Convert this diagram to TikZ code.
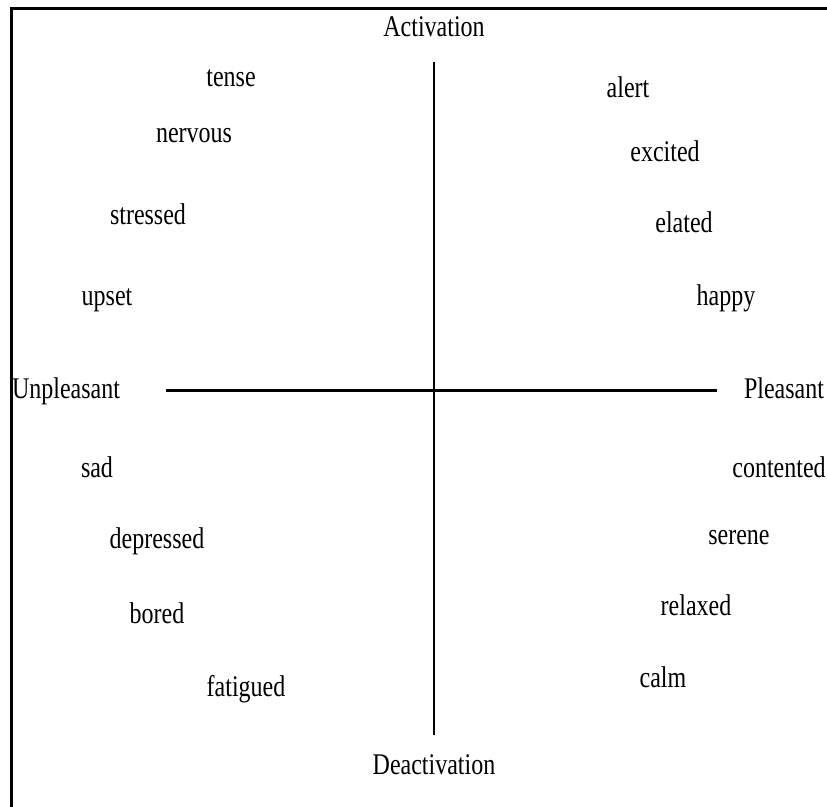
\documentclass[tikz,border=0pt]{standalone}
\usepackage{fontspec}
\newfontfamily\emofont[FakeStretch=0.8]{Liberation Serif}
\usepackage{tikz}
\usetikzlibrary{positioning}

\begin{document}
\begin{tikzpicture}[
  x=0.5pt, y=-0.5pt,
  word/.style={anchor=base, inner sep=0pt, font=\emofont\fontsize{15}{18}\selectfont},
  axis/.style={line width=1.5pt, color=black}
]
  \useasboundingbox (0,0) rectangle (827,807);
  % frame (left and top only)
  \draw[line width=1.5pt] (11,807) -- (11,9) -- (827,9);

  % axes
  \coordinate (top) at (434,62);
  \coordinate (bottom) at (434,735);
  \coordinate (left) at (166,391);
  \coordinate (right) at (717,391);
  \draw[axis, line width=1pt] (top) -- (bottom);
  \draw[axis] (left) -- (right);

  \node[word] (act) at (434,37) {Activation};
  \node[word] (deact) at (434,775) {Deactivation};
  \node[word] (unpl) at (66,399) {Unpleasant};
  \node[word] (pl) at (784,399) {Pleasant};

  % upper left
  \node[word] (tense) at (231,87) {tense};
  \node[word] (nervous) at (194,143) {nervous};
  \node[word] (stressed) at (148,225) {stressed};
  \node[word] (upset) at (107,306) {upset};
  % upper right
  \node[word] (alert) at (628,98) {alert};
  \node[word] (excited) at (665,162) {excited};
  \node[word] (elated) at (684,233) {elated};
  \node[word] (happy) at (726,306) {happy};
  % lower left
  \node[word] (sad) at (97,478) {sad};
  \node[word] (depressed) at (157,549) {depressed};
  \node[word] (bored) at (157,624) {bored};
  \node[word] (fatigued) at (246,697) {fatigued};
  % lower right
  \node[word] (contented) at (779,478) {contented};
  \node[word] (serene) at (739,545) {serene};
  \node[word] (relaxed) at (696,616) {relaxed};
  \node[word] (calm) at (663,688) {calm};
\end{tikzpicture}
\end{document}
